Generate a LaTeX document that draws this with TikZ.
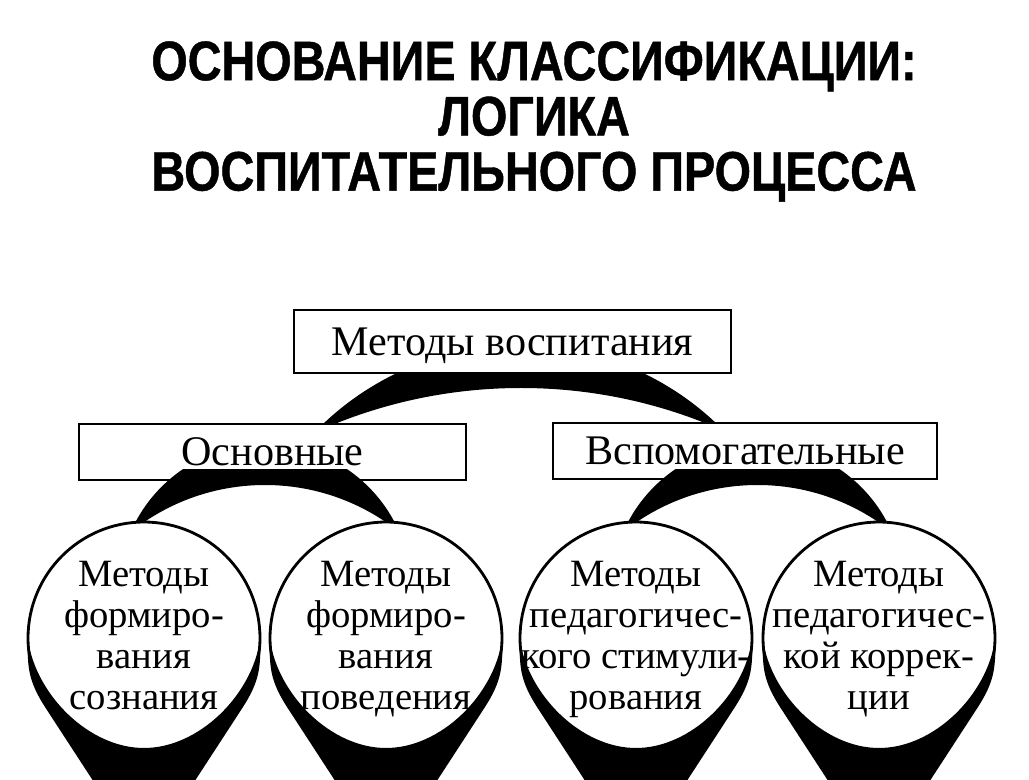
\documentclass[tikz,border=0pt]{standalone}
\usepackage{fontspec}
\setmainfont{Liberation Serif}
\newfontfamily\titlefont[FakeStretch=0.84, BoldFeatures={FakeBold=0.8}]{Liberation Sans}
\begin{document}
\begin{tikzpicture}[x=0.02cm,y=-0.02cm,
  box/.style={draw, line width=1.6pt, fill=white, inner sep=0pt, text height=15.9pt, text depth=0pt, font=\fontsize{24}{28}\selectfont},
  circ/.style={draw, circle, line width=1.6pt, fill=white, minimum size=4.64cm, inner sep=0pt},
  ctext/.style={align=center, inner sep=0pt, anchor=north, font=\fontsize{22}{23.4}\selectfont},
  crescent/.style={fill=black, even odd rule},
  skirt/.style={fill=black},
  titletext/.style={align=center, inner sep=0pt, anchor=north, font=\titlefont\bfseries\fontsize{31.7}{31.4}\selectfont}]

\useasboundingbox (0,0) rectangle (1029,780);
\clip (0,0) rectangle (1029,780);
\fill[white] (0,0) rectangle (1029,780);

\node[titletext] (title) at (534,41) {ОСНОВАНИЕ КЛАССИФИКАЦИИ:\\ЛОГИКА\\ВОСПИТАТЕЛЬНОГО ПРОЦЕССА};

% crescent joining the top box to the two boxes below it
\begin{scope}
  \clip (0,340) rectangle (1029,424);
  \fill[crescent] (520,630.7) circle[radius=285.5] (521,886.5) circle[radius=498.5];
\end{scope}

\node[box, minimum width=8.74cm, minimum height=1.26cm] (root) at (512.5,341.5) {Методы воспитания};
\node[box, minimum width=7.74cm, minimum height=1.12cm] (main) at (272.5,452) {Основные};
\node[box, minimum width=7.68cm, minimum height=1.12cm] (aux) at (745,451) {Вспомогательные};

% crescents joining each box to its two circles
\begin{scope}
  \clip (0,470) rectangle (1029,560);
  \foreach \g in {265,757.5} {
    \fill[crescent] (\g,590.4) circle[radius=146.4] (\g,700.3) circle[radius=215.3];
  }
\end{scope}

\node[circ] (c1) at (144,638) {};
\node[circ] (c2) at (386,638) {};
\node[circ] (c3) at (636,638) {};
\node[circ] (c4) at (879,638) {};

% black skirts under the circles
\foreach \cx in {144,386,636,879} {
  \fill[skirt] ({\cx+116},640) .. controls ({\cx+117},668) and ({\cx+115},682) .. ({\cx+99},707)
    -- (\cx,859) -- ({\cx-99},707)
    .. controls ({\cx-115},682) and ({\cx-117},668) .. ({\cx-116},640)
    .. controls ({\cx-108},695) and ({\cx-55},748) .. (\cx,748)
    .. controls ({\cx+55},748) and ({\cx+108},695) .. ({\cx+116},640) -- cycle;
}

\node[ctext] (t1) at (144,561) {Методы\\формиро-\\вания\\сознания};
\node[ctext] (t2) at (386,561) {Методы\\формиро-\\вания\\поведения};
\node[ctext] (t3) at (636,561) {Методы\\педагогичес-\\кого стимули-\\рования};
\node[ctext] (t4) at (879,561) {Методы\\педагогичес-\\кой коррек-\\ции};
\end{tikzpicture}
\end{document}
